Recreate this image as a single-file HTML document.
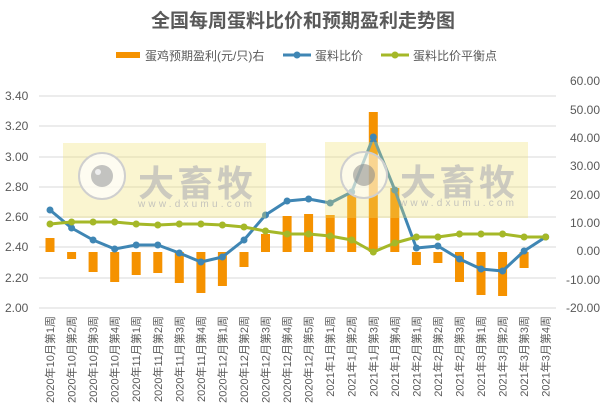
<!DOCTYPE html>
<html><head><meta charset="utf-8"><style>
body{margin:0;background:#fff;}
svg{display:block;font-family:"Liberation Sans","Noto Sans CJK SC",sans-serif;}
</style></head><body>
<svg width="606" height="414" viewBox="0 0 606 414" xmlns="http://www.w3.org/2000/svg">
<rect width="606" height="414" fill="#fff"/>
<text x="303" y="27" text-anchor="middle" font-size="19" font-weight="bold" fill="#595959">全国每周蛋料比价和预期盈利走势图</text>
<rect x="116" y="52" width="24" height="6" fill="#f59200"/>
<text x="145" y="60" font-size="12" fill="#595959">蛋鸡预期盈利(元/只)右</text>
<line x1="283" y1="55" x2="311" y2="55" stroke="#3f86b4" stroke-width="3"/><circle cx="297" cy="55" r="3.5" fill="#3f86b4"/>
<text x="315" y="60" font-size="12" fill="#595959">蛋料比价</text>
<line x1="381" y1="55" x2="409" y2="55" stroke="#a5b828" stroke-width="3"/><circle cx="395" cy="55" r="3.5" fill="#a5b828"/>
<text x="413" y="60" font-size="12" fill="#595959">蛋料比价平衡点</text>
<g stroke="#d9d9d9" stroke-width="1">
<line x1="39" y1="96" x2="556" y2="96"/><line x1="39" y1="126" x2="556" y2="126"/><line x1="39" y1="157" x2="556" y2="157"/><line x1="39" y1="187" x2="556" y2="187"/><line x1="39" y1="217" x2="556" y2="217"/><line x1="39" y1="247" x2="556" y2="247"/><line x1="39" y1="278" x2="556" y2="278"/><line x1="39" y1="308" x2="556" y2="308"/>
</g>
<g font-size="12" fill="#595959" text-anchor="start">
<text x="5" y="100">3.40</text><text x="5" y="130">3.20</text><text x="5" y="161">3.00</text><text x="5" y="191">2.80</text><text x="5" y="221">2.60</text><text x="5" y="251">2.40</text><text x="5" y="282">2.20</text><text x="5" y="312">2.00</text>
</g>
<g font-size="12" fill="#595959" text-anchor="end">
<text x="600" y="85">60.00</text><text x="600" y="114">50.00</text><text x="600" y="142">40.00</text><text x="600" y="170">30.00</text><text x="600" y="199">20.00</text><text x="600" y="227">10.00</text><text x="600" y="255">0.00</text><text x="600" y="284">-10.00</text><text x="600" y="312">-20.00</text>
</g>
<g fill="#f59200">
<rect x="45.5" y="238" width="9" height="14"/>
<rect x="67.1" y="252" width="9" height="7"/>
<rect x="88.6" y="252" width="9" height="20"/>
<rect x="110.2" y="252" width="9" height="30"/>
<rect x="131.7" y="252" width="9" height="23"/>
<rect x="153.3" y="252" width="9" height="21"/>
<rect x="174.8" y="252" width="9" height="31"/>
<rect x="196.4" y="252" width="9" height="41"/>
<rect x="217.9" y="252" width="9" height="34"/>
<rect x="239.5" y="252" width="9" height="15"/>
<rect x="261" y="234" width="9" height="18"/>
<rect x="282.6" y="216" width="9" height="36"/>
<rect x="304.1" y="214" width="9" height="38"/>
<rect x="325.7" y="215" width="9" height="37"/>
<rect x="347.2" y="195" width="9" height="57"/>
<rect x="368.8" y="112" width="9" height="140"/>
<rect x="390.3" y="188" width="9" height="64"/>
<rect x="411.9" y="252" width="9" height="13"/>
<rect x="433.4" y="252" width="9" height="11"/>
<rect x="455" y="252" width="9" height="30"/>
<rect x="476.5" y="252" width="9" height="43"/>
<rect x="498.1" y="252" width="9" height="44"/>
<rect x="519.6" y="252" width="9" height="16"/>
</g>
<g fill="#3f86b4" stroke="none">
<polyline fill="none" stroke="#3f86b4" stroke-width="3" stroke-linejoin="round" points="50,210 71.6,228 93.1,240 114.7,249 136.2,245 157.8,245 179.3,253 200.9,262 222.4,257 244,240 265.5,215 287.1,201 308.6,199 330.2,203 351.7,192 373.3,137 394.8,190 416.4,248 437.9,246 459.5,259 481,269 502.6,271 524.1,251 545.7,237"/>
<circle cx="50" cy="210" r="3.5"/><circle cx="71.6" cy="228" r="3.5"/><circle cx="93.1" cy="240" r="3.5"/><circle cx="114.7" cy="249" r="3.5"/><circle cx="136.2" cy="245" r="3.5"/><circle cx="157.8" cy="245" r="3.5"/><circle cx="179.3" cy="253" r="3.5"/><circle cx="200.9" cy="262" r="3.5"/><circle cx="222.4" cy="257" r="3.5"/><circle cx="244" cy="240" r="3.5"/><circle cx="265.5" cy="215" r="3.5"/><circle cx="287.1" cy="201" r="3.5"/><circle cx="308.6" cy="199" r="3.5"/><circle cx="330.2" cy="203" r="3.5"/><circle cx="351.7" cy="192" r="3.5"/><circle cx="373.3" cy="137" r="3.5"/><circle cx="394.8" cy="190" r="3.5"/><circle cx="416.4" cy="248" r="3.5"/><circle cx="437.9" cy="246" r="3.5"/><circle cx="459.5" cy="259" r="3.5"/><circle cx="481" cy="269" r="3.5"/><circle cx="502.6" cy="271" r="3.5"/><circle cx="524.1" cy="251" r="3.5"/><circle cx="545.7" cy="237" r="3.5"/>
</g>
<g fill="#a5b828">
<polyline fill="none" stroke="#a5b828" stroke-width="3" stroke-linejoin="round" points="50,224 71.6,222 93.1,222 114.7,222 136.2,224 157.8,225 179.3,224 200.9,224 222.4,225 244,227 265.5,231 287.1,234 308.6,234 330.2,236 351.7,240 373.3,252 394.8,243 416.4,237 437.9,237 459.5,234 481,234 502.6,234 524.1,237 545.7,237"/>
<circle cx="50" cy="224" r="3.5"/><circle cx="71.6" cy="222" r="3.5"/><circle cx="93.1" cy="222" r="3.5"/><circle cx="114.7" cy="222" r="3.5"/><circle cx="136.2" cy="224" r="3.5"/><circle cx="157.8" cy="225" r="3.5"/><circle cx="179.3" cy="224" r="3.5"/><circle cx="200.9" cy="224" r="3.5"/><circle cx="222.4" cy="225" r="3.5"/><circle cx="244" cy="227" r="3.5"/><circle cx="265.5" cy="231" r="3.5"/><circle cx="287.1" cy="234" r="3.5"/><circle cx="308.6" cy="234" r="3.5"/><circle cx="330.2" cy="236" r="3.5"/><circle cx="351.7" cy="240" r="3.5"/><circle cx="373.3" cy="252" r="3.5"/><circle cx="394.8" cy="243" r="3.5"/><circle cx="416.4" cy="237" r="3.5"/><circle cx="437.9" cy="237" r="3.5"/><circle cx="459.5" cy="234" r="3.5"/><circle cx="481" cy="234" r="3.5"/><circle cx="502.6" cy="234" r="3.5"/><circle cx="524.1" cy="237" r="3.5"/><circle cx="545.7" cy="237" r="3.5"/>
</g>
<g>
<rect x="63" y="143" width="203" height="75" fill="rgb(240,225,110)" fill-opacity="0.32"/>
<circle cx="102" cy="176" r="23" fill="#fff" fill-opacity="0.7" stroke="#cfcfcf" stroke-width="2"/>
<circle cx="102" cy="176" r="11" fill="#b4b4b4" fill-opacity="0.8"/>
<circle cx="98" cy="172" r="3" fill="#eee"/>
<text x="138" y="196" font-size="36" font-weight="bold" fill="#b8b8b8" fill-opacity="0.7" textLength="115">大畜牧</text>
<text x="138" y="207" font-size="10" fill="#b8b8b8" fill-opacity="0.8" textLength="114">www.dxumu.com</text>
</g>
<g>
<rect x="325" y="142" width="203" height="76" fill="rgb(240,225,110)" fill-opacity="0.32"/>
<circle cx="364" cy="175" r="23" fill="#fff" fill-opacity="0.5" stroke="#cfcfcf" stroke-width="2"/>
<circle cx="364" cy="175" r="11" fill="#888" fill-opacity="0.55"/>
<text x="400" y="195" font-size="36" font-weight="bold" fill="#b8b8b8" fill-opacity="0.7" textLength="115">大畜牧</text>
<text x="400" y="206" font-size="10" fill="#b8b8b8" fill-opacity="0.8" textLength="114">www.dxumu.com</text>
</g>
<g font-size="11" fill="#595959" text-anchor="end">
<text transform="translate(54,316) rotate(-90)">2020年10月第1周</text>
<text transform="translate(75.6,316) rotate(-90)">2020年10月第2周</text>
<text transform="translate(97.1,316) rotate(-90)">2020年10月第3周</text>
<text transform="translate(118.7,316) rotate(-90)">2020年10月第4周</text>
<text transform="translate(140.2,316) rotate(-90)">2020年11月第1周</text>
<text transform="translate(161.8,316) rotate(-90)">2020年11月第2周</text>
<text transform="translate(183.3,316) rotate(-90)">2020年11月第3周</text>
<text transform="translate(204.9,316) rotate(-90)">2020年11月第4周</text>
<text transform="translate(226.4,316) rotate(-90)">2020年12月第1周</text>
<text transform="translate(248,316) rotate(-90)">2020年12月第2周</text>
<text transform="translate(269.5,316) rotate(-90)">2020年12月第3周</text>
<text transform="translate(291.1,316) rotate(-90)">2020年12月第4周</text>
<text transform="translate(312.6,316) rotate(-90)">2020年12月第5周</text>
<text transform="translate(334.2,316) rotate(-90)">2021年1月第1周</text>
<text transform="translate(355.7,316) rotate(-90)">2021年1月第2周</text>
<text transform="translate(377.3,316) rotate(-90)">2021年1月第3周</text>
<text transform="translate(398.8,316) rotate(-90)">2021年1月第4周</text>
<text transform="translate(420.4,316) rotate(-90)">2021年2月第1周</text>
<text transform="translate(441.9,316) rotate(-90)">2021年2月第2周</text>
<text transform="translate(463.5,316) rotate(-90)">2021年2月第3周</text>
<text transform="translate(485,316) rotate(-90)">2021年3月第1周</text>
<text transform="translate(506.6,316) rotate(-90)">2021年3月第2周</text>
<text transform="translate(528.1,316) rotate(-90)">2021年3月第3周</text>
<text transform="translate(549.7,316) rotate(-90)">2021年3月第4周</text>
</g>
</svg>
</body></html>
